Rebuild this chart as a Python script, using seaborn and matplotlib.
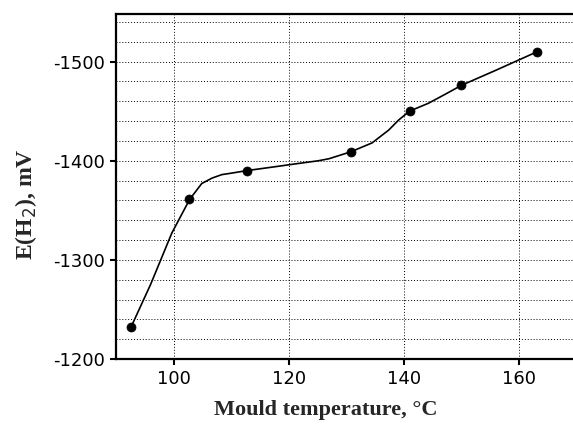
import matplotlib
matplotlib.use('Agg')
import matplotlib.pyplot as plt
import seaborn as sns
import pandas as pd
from matplotlib.ticker import MultipleLocator

# measured points
temp = [92.6, 102.7, 112.7, 130.8, 141.0, 150.0, 163.2]
potential = [-1232, -1361, -1390, -1409, -1450, -1476, -1510]

# smooth curve
curve_temp = [92.6, 96.0, 99.7, 102.8, 104.9, 106.7, 108.4, 110.1, 112.7, 117.7, 121.4,
              125.2, 127.0, 130.8, 134.5, 137.4, 139.1, 141.0, 144.3, 147.5,
              150.0, 155.9, 163.2]
curve_pot = [-1232, -1275, -1327, -1361, -1377, -1382.5, -1386, -1387.5, -1390, -1394, -1397,
             -1400, -1402, -1409, -1418, -1431, -1441, -1450, -1458, -1468,
             -1476, -1491, -1510]

df_pts = pd.DataFrame({'T': temp, 'E': potential})
df_curve = pd.DataFrame({'T': curve_temp, 'E': curve_pot})

sns.set_style('white')
plt.rcParams['axes.unicode_minus'] = False
plt.rcParams['font.family'] = ['DejaVu Sans']

fig = plt.figure(figsize=(5.73, 4.28), dpi=100)
ax = fig.add_axes([0.2024, 0.1612, 0.7976, 0.8061])

sns.lineplot(x='T', y='E', data=df_curve, color='black', linewidth=1.2, ax=ax, sort=False)
sns.scatterplot(x='T', y='E', data=df_pts, color='black', s=42, marker='o', ax=ax,
                edgecolor='black', zorder=5)

ax.set_xlim(90, 169.4)
ax.set_ylim(-1200, -1548)
ax.xaxis.set_major_locator(MultipleLocator(20))
ax.yaxis.set_major_locator(MultipleLocator(100))
ax.yaxis.set_minor_locator(MultipleLocator(20))

ax.grid(True, which='major', axis='x', linestyle=(0, (1, 2)), color='black', linewidth=0.7)
ax.grid(True, which='both', axis='y', linestyle=(0, (1, 2)), color='black', linewidth=0.7)
ax.set_axisbelow(True)

for s in ['left', 'bottom', 'top']:
    ax.spines[s].set_linewidth(1.6)
    ax.spines[s].set_color('black')
ax.spines['right'].set_visible(False)

ax.tick_params(axis='both', which='major', direction='out', length=4, width=1.5,
               labelsize=13, colors='black', left=True, bottom=True, pad=4)
ax.tick_params(axis='y', which='minor', length=0, left=False)

ax.set_xlabel('Mould temperature, °C', fontsize=16, fontweight='bold',
              family=['Liberation Serif'])
ax.set_ylabel('E(H$_2$), mV', fontsize=17, fontweight='bold',
              family=['Liberation Serif'])
ax.xaxis.set_label_coords(0.46, -0.118)
ax.yaxis.set_label_coords(-0.168, 0.45)

fig.savefig('out.png', dpi=100)
